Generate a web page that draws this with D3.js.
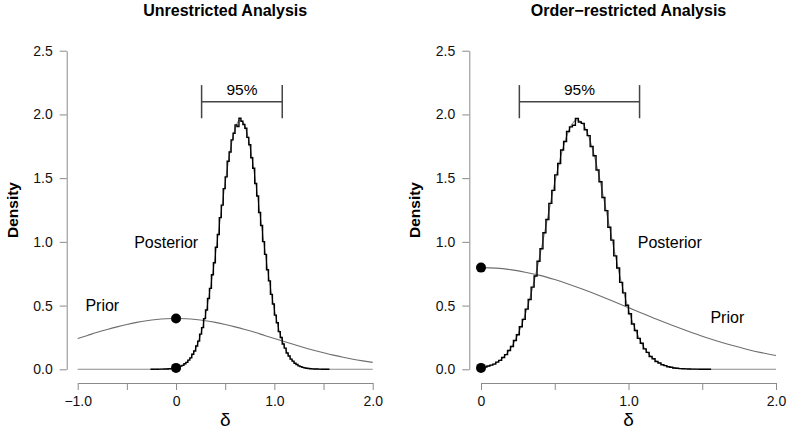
<!DOCTYPE html>
<html>
<head>
<meta charset="utf-8">
<script src="https://cdn.jsdelivr.net/npm/d3@7"></script>
<style>
  body { margin: 0; background: #fff; }
  svg { display: block; font-family: "Liberation Sans", Arial, Helvetica, sans-serif; }
  .axis { font-family: "Liberation Sans", Arial, Helvetica, sans-serif; }
  .axis path, .axis line { stroke: #8a8a8a; stroke-width: 1; }
  .axis text { fill: #111; font-size: 14px; }
</style>
</head>
<body>
<svg id="chart" width="790" height="434"></svg>
<script>
// ---- data ----
const panelTitles = ["Unrestricted Analysis", "Order\u2212restricted Analysis"];
const yTicks = [0, 0.5, 1.0, 1.5, 2.0, 2.5];
const xTicksUnres = [-1, -0.5, 0, 0.5, 1, 1.5, 2];
const xTicksRes = [0, 0.5, 1, 1.5, 2];
const xLabelsShown = { "-1": "\u22121.0", "0": "0", "1": "1.0", "2": "2.0" };

// posterior MCMC histogram, bins 0.02 wide
const binWidth = 0.02;
const histStartUnres = -0.26;
const histUnres = [
  0.000, 0.000, 0.001, 0.000, 0.001, 0.001, 0.001, 0.002, 0.002, 0.004,
  0.005, 0.007, 0.010, 0.013, 0.018, 0.025, 0.031, 0.043, 0.054, 0.072,
  0.090, 0.118, 0.144, 0.183, 0.221, 0.276, 0.327, 0.398, 0.465, 0.556,
  0.635, 0.742, 0.836, 0.958, 1.058, 1.190, 1.288, 1.418, 1.510, 1.632,
  1.705, 1.800, 1.852, 1.918, 1.905, 1.970, 1.946, 1.921, 1.892, 1.820,
  1.762, 1.660, 1.578, 1.458, 1.360, 1.230, 1.128, 1.002, 0.902, 0.781,
  0.694, 0.588, 0.512, 0.425, 0.365, 0.296, 0.250, 0.198, 0.166, 0.128,
  0.104, 0.080, 0.064, 0.047, 0.038, 0.027, 0.021, 0.015, 0.011, 0.008,
  0.006, 0.004, 0.003, 0.002, 0.002, 0.001, 0.001, 0.000, 0.000, 0.000,
  0.000
];
const histStartRes = 0.0;
const histRes = [
  0.014, 0.017, 0.026, 0.033, 0.041, 0.056, 0.070, 0.093, 0.115, 0.147,
  0.179, 0.226, 0.271, 0.334, 0.392, 0.472, 0.548, 0.645, 0.732, 0.848,
  0.946, 1.072, 1.176, 1.302, 1.404, 1.526, 1.615, 1.721, 1.788, 1.866,
  1.902, 1.915, 1.968, 1.940, 1.930, 1.880, 1.834, 1.748, 1.676, 1.564,
  1.472, 1.348, 1.245, 1.115, 1.014, 0.890, 0.795, 0.682, 0.600, 0.503,
  0.436, 0.356, 0.304, 0.243, 0.205, 0.160, 0.133, 0.101, 0.083, 0.061,
  0.049, 0.036, 0.029, 0.020, 0.016, 0.010, 0.008, 0.005, 0.004, 0.003,
  0.002, 0.001, 0.001, 0.001, 0.000, 0.000, 0.000, 0.000
];

// smoothed posterior density (grey line)
const postX = [-1.0, -0.5, -0.2, -0.15, -0.1, -0.05, 0.0, 0.05, 0.1, 0.15, 0.2, 0.25,
  0.3, 0.35, 0.4, 0.45, 0.5, 0.55, 0.6, 0.65, 0.7, 0.75, 0.8, 0.85, 0.9, 0.95,
  1.0, 1.05, 1.1, 1.15, 1.2, 1.25, 1.3, 1.35, 1.4, 1.45, 1.5, 1.6, 2.0];
const postY = [0, 0, 0, 0.001, 0.002, 0.005, 0.011, 0.024, 0.048, 0.091, 0.163, 0.273,
  0.430, 0.640, 0.896, 1.181, 1.466, 1.713, 1.886, 1.956, 1.909, 1.755, 1.519, 1.238, 0.951, 0.688,
  0.468, 0.300, 0.181, 0.103, 0.055, 0.028, 0.013, 0.006, 0.002, 0.001, 0, 0, 0];

// prior densities
const priorXUnres = [-1.0, -0.9, -0.8, -0.7, -0.6, -0.5, -0.4, -0.3, -0.2, -0.1, 0.0,
  0.1, 0.2, 0.3, 0.4, 0.5, 0.6, 0.7, 0.8, 0.9, 1.0, 1.1, 1.2, 1.3, 1.4, 1.5,
  1.6, 1.7, 1.8, 1.9, 2.0];
const priorYUnres = [0.242, 0.266, 0.290, 0.312, 0.333, 0.352, 0.368, 0.381, 0.391, 0.397, 0.399,
  0.397, 0.391, 0.381, 0.368, 0.352, 0.333, 0.312, 0.290, 0.266, 0.242, 0.218, 0.194, 0.171, 0.150, 0.130,
  0.111, 0.094, 0.079, 0.066, 0.054];
const priorXRes = [0.0, 0.1, 0.2, 0.3, 0.4, 0.5, 0.6, 0.7, 0.8, 0.9, 1.0,
  1.1, 1.2, 1.3, 1.4, 1.5, 1.6, 1.7, 1.8, 1.9, 2.0];
const priorYRes = [0.798, 0.794, 0.782, 0.762, 0.737, 0.704, 0.666, 0.624, 0.579, 0.532, 0.484,
  0.436, 0.388, 0.343, 0.300, 0.259, 0.222, 0.188, 0.158, 0.131, 0.108];

// density heights at delta = 0 (prior, posterior)
const dotsUnres = [0.399, 0.011];
const dotsRes = [0.798, 0.011];

// 95% credible interval
const ciUnres = [0.26, 1.08];
const ciRes = [0.26, 1.075];
const ciHeight = 2.1;

// label anchors [x, y] in data units
const labelsUnres = { posterior: [-0.1, 1.0], prior: [-0.75, 0.5] };
const labelsRes = { posterior: [1.28, 1.0], prior: [1.67, 0.41] };

// ---- drawing ----
const svg = d3.select("#chart");

function drawPanel(p) {
  const x = d3.scaleLinear().domain(p.xDomain).range(p.xRange);
  const y = d3.scaleLinear().domain([0, 2.5]).range([369.3, 50.7]);
  const g = svg.append("g");

  // axes
  g.append("g")
    .attr("class", "axis")
    .attr("transform", "translate(0,383)")
    .call(d3.axisBottom(x).tickValues(p.xTicks).tickSize(7).tickSizeOuter(0).tickPadding(6)
      .tickFormat(d => xLabelsShown[String(d)] || ""));

  g.append("g")
    .attr("class", "axis")
    .attr("transform", `translate(${p.yAxisX},0)`)
    .call(d3.axisLeft(y).tickValues(yTicks).tickSize(7).tickSizeOuter(0).tickPadding(7)
      .tickFormat(d3.format(".1f")));

  g.selectAll(".axis").attr("font-family", null).attr("font-size", null);

  // prior curve
  const line = d3.line().x(d => x(d[0])).y(d => y(d[1])).curve(d3.curveMonotoneX);
  g.append("path")
    .datum(d3.zip(p.priorX, p.priorY))
    .attr("d", line)
    .attr("fill", "none")
    .attr("stroke", "#6e6e6e")
    .attr("stroke-width", 1.1);

  // smoothed posterior (grey), clipped to the panel domain
  const post = d3.zip(postX, postY).filter(d => d[0] >= p.xDomain[0]);
  g.append("path")
    .datum(post)
    .attr("d", line)
    .attr("fill", "none")
    .attr("stroke", "#8c8c8c")
    .attr("stroke-width", 1.1);

  // histogram as a step outline
  const steps = p.hist.map((h, i) => [p.histStart + i * binWidth, h]);
  steps.push([p.histStart + p.hist.length * binWidth, p.hist[p.hist.length - 1]]);
  g.append("path")
    .datum(steps)
    .attr("d", d3.line().x(d => x(d[0])).y(d => y(d[1])).curve(d3.curveStepAfter))
    .attr("fill", "none")
    .attr("stroke", "#000")
    .attr("stroke-width", 1.4);

  // dots at delta = 0
  g.selectAll("circle")
    .data(p.dots)
    .enter()
    .append("circle")
    .attr("cx", x(0))
    .attr("cy", d => y(d))
    .attr("r", 5)
    .attr("fill", "#000");

  // 95% interval bar
  const ci = g.append("g").attr("stroke", "#444").attr("stroke-width", 1.5);
  ci.append("line")
    .attr("x1", x(p.ci[0])).attr("x2", x(p.ci[1]))
    .attr("y1", y(ciHeight)).attr("y2", y(ciHeight));
  p.ci.forEach(v => {
    ci.append("line")
      .attr("x1", x(v)).attr("x2", x(v))
      .attr("y1", y(ciHeight + 0.13)).attr("y2", y(ciHeight - 0.13));
  });
  g.append("text")
    .attr("x", x((p.ci[0] + p.ci[1]) / 2))
    .attr("y", y(ciHeight) - 6.5)
    .attr("text-anchor", "middle")
    .style("font-size", "15.5px")
    .text("95%");

  // curve labels
  [["posterior", "Posterior"], ["prior", "Prior"]].forEach(([k, txt]) => {
    g.append("text")
      .attr("x", x(p.labels[k][0]))
      .attr("y", y(p.labels[k][1]))
      .attr("dy", "0.36em")
      .attr("text-anchor", "middle")
      .style("font-size", "16px")
      .text(txt);
  });

  // titles
  const cx = (p.xRange[0] + p.xRange[1]) / 2;
  g.append("text")
    .attr("x", cx).attr("y", 16)
    .attr("text-anchor", "middle")
    .style("font-size", "16px").style("font-weight", "bold")
    .text(p.title);

  g.append("text")
    .attr("transform", `translate(${p.yAxisX - 49},${(y(0) + y(2.5)) / 2}) rotate(-90)`)
    .attr("text-anchor", "middle")
    .style("font-size", "15.5px").style("font-weight", "bold")
    .text("Density");

  g.append("text")
    .attr("x", cx).attr("y", 426)
    .attr("text-anchor", "middle")
    .style("font-size", "19px")
    .text("\u03b4");
}

drawPanel({
  title: panelTitles[0],
  xDomain: [-1, 2], xRange: [77.7, 372.7], yAxisX: 66.7,
  xTicks: xTicksUnres,
  hist: histUnres, histStart: histStartUnres,
  priorX: priorXUnres, priorY: priorYUnres,
  dots: dotsUnres, ci: ciUnres, labels: labelsUnres
});

drawPanel({
  title: panelTitles[1],
  xDomain: [0, 2], xRange: [481, 776], yAxisX: 469.3,
  xTicks: xTicksRes,
  hist: histRes, histStart: histStartRes,
  priorX: priorXRes, priorY: priorYRes,
  dots: dotsRes, ci: ciRes, labels: labelsRes
});
</script>
</body>
</html>
